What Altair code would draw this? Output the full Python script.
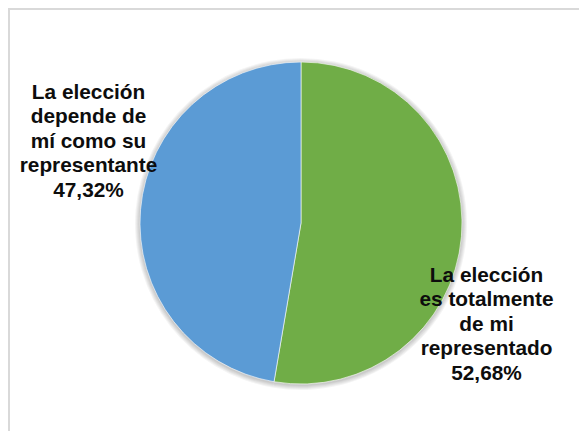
import altair as alt
import pandas as pd

categories = ["La elección es totalmente de mi representado",
              "La elección depende de mí como su representante"]
values = [52.68, 47.32]
labels = ["La elección\nes totalmente\nde mi\nrepresentado\n52,68%",
          "La elección\ndepende de\nmí como su\nrepresentante\n47,32%"]
colors = ["#70AD47", "#5B9BD5"]
order = [0, 1]

df = pd.DataFrame({"cat": categories, "value": values, "label": labels, "ord": order})

W, H = 571, 423
CX, CY, R = 293, 215, 161

base = alt.Chart(df)

shadows = [
    base.mark_arc(radius=R + k, color="#000000", opacity=0.045).encode(
        theta=alt.Theta("value:Q", stack=True),
        order=alt.Order("ord:Q"),
        x=alt.value(CX), y=alt.value(CY + 1),
    )
    for k in (1, 2, 3, 4, 5)
]

pie = base.mark_arc(radius=R, stroke="#ffffff", strokeWidth=0.6).encode(
    theta=alt.Theta("value:Q", stack=True),
    order=alt.Order("ord:Q"),
    color=alt.Color("cat:N", scale=alt.Scale(domain=categories, range=colors), legend=None),
    x=alt.value(CX), y=alt.value(CY),
)

txt_style = dict(font="Liberation Sans", fontSize=20.8, fontWeight="bold", color="#0d0d0d",
                 align="center", baseline="alphabetic", lineBreak="\n", lineHeight=24.4)

lbl_right = alt.Chart(df.iloc[[0]]).mark_text(**txt_style).encode(
    text="label:N", x=alt.value(478.5), y=alt.value(274))
lbl_left = alt.Chart(df.iloc[[1]]).mark_text(**txt_style).encode(
    text="label:N", x=alt.value(80.5), y=alt.value(91))

border_top = alt.Chart(df.iloc[[0]]).mark_rule(color="#d9d9d9", strokeWidth=2).encode(
    x=alt.value(0), x2=alt.value(W), y=alt.value(1))
border_left = alt.Chart(df.iloc[[0]]).mark_rule(color="#d9d9d9", strokeWidth=2).encode(
    x=alt.value(1), y=alt.value(0), y2=alt.value(H))

chart = alt.layer(*shadows, pie, lbl_left, lbl_right, border_top, border_left).properties(
    width=W, height=H, padding=0,
    autosize=alt.AutoSizeParams(type="none"),
).configure_view(stroke=None).configure(background="#ffffff")

chart.save("out.html", embed_options={"renderer": "svg", "actions": False})
